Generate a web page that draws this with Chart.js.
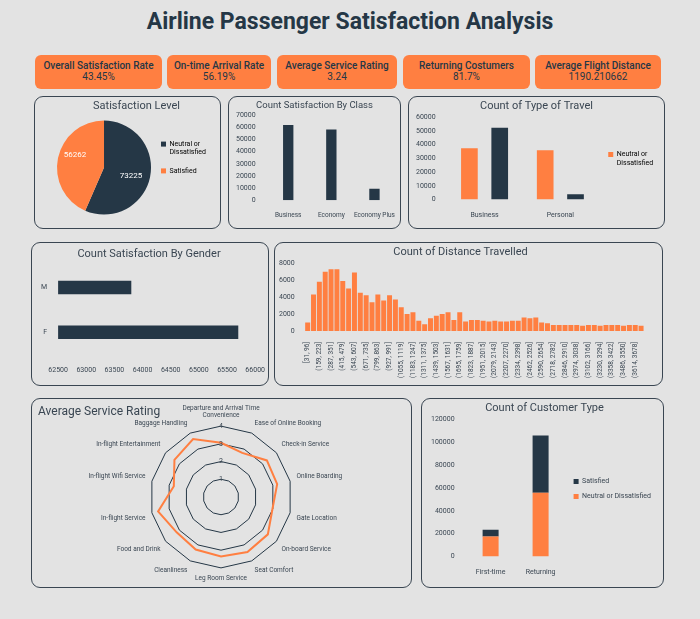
<!DOCTYPE html>
<html>
<head>
<meta charset="utf-8">
<script src="https://cdn.jsdelivr.net/npm/chart.js@4"></script>
<style>
body { margin:0; background:#e3e3e3; font-family:"Roboto", sans-serif; width:700px; height:619px; position:relative; overflow:hidden; }
h1 { position:absolute; left:0; width:700px; top:8px; margin:0; text-align:center; font-size:23px; font-weight:bold; color:#253746; }
.kpi { position:absolute; top:55px; height:34px; background:#ff7f41; border-radius:6px; text-align:center; color:#253746; font-size:10px; }
.kpi b { display:block; margin-top:5px; font-size:10px; font-weight:500; }
.panel { position:absolute; border:1.5px solid #3a4652; border-radius:9px; box-sizing:border-box; }
.panel canvas { position:absolute; left:0; top:0; }
.ptitle { position:absolute; left:6px; top:5px; font-size:12px; color:#3a4652; z-index:2; }
</style>
</head>
<body>
<h1>Airline Passenger Satisfaction Analysis</h1>
<div class="kpi" style="left:35px;width:127px"><b>Overall Satisfaction Rate</b>43.45%</div>
<div class="kpi" style="left:167px;width:104px"><b>On-time Arrival Rate</b>56.19%</div>
<div class="kpi" style="left:277px;width:120px"><b>Average Service Rating</b>3.24</div>
<div class="kpi" style="left:403px;width:127px"><b>Returning Costumers</b>81.7%</div>
<div class="kpi" style="left:535px;width:126px"><b>Average Flight Distance</b>1190.210662</div>

<div class="panel" style="left:34px;top:96px;width:187px;height:133px"><canvas id="pie"></canvas></div>
<div class="panel" style="left:228px;top:96px;width:173px;height:133px"><canvas id="cls"></canvas></div>
<div class="panel" style="left:408px;top:96px;width:257px;height:133px"><canvas id="travel"></canvas></div>
<div class="panel" style="left:31px;top:242px;width:238px;height:144px"><canvas id="gender"></canvas></div>
<div class="panel" style="left:274px;top:242px;width:389px;height:144px"><canvas id="dist"></canvas></div>
<div class="panel" style="left:31px;top:398px;width:381px;height:190px"><div class="ptitle">Average Service Rating</div><canvas id="radar"></canvas></div>
<div class="panel" style="left:421px;top:398px;width:243px;height:190px"><canvas id="cust"></canvas></div>

<script>
const ORANGE = '#ff7f41', DARK = '#253746', TXT = '#3a4652';
Chart.defaults.font.family = 'Roboto';
Chart.defaults.font.size = 7;
Chart.defaults.color = TXT;
Chart.defaults.animation = false;
Chart.defaults.responsive = true;
Chart.defaults.maintainAspectRatio = false;
Chart.defaults.plugins.legend.display = false;

function ttl(text, size) {
    return { display: true, text: text, color: TXT, font: { size: size || 11, weight: 'normal' }, padding: { top: 3, bottom: 4 } };
}
const noGrid = { display: false };
const plain = v => v; // keine Tausendertrennzeichen
const box = { boxWidth: 5, boxHeight: 5, font: { size: 7 } };

// Satisfaction Level
new Chart('pie', {
    type: 'pie',
    data: { labels: ['Neutral or Dissatisfied', 'Satisfied'],
            datasets: [{ data: [73225, 56262], backgroundColor: [DARK, ORANGE], borderWidth: 0 }] },
    options: {
        layout: { padding: { left: 22, bottom: 10, right: 4 } },
        plugins: {
            title: ttl('Satisfaction Level', 11),
            legend: { display: true, position: 'right', labels: Object.assign({
                generateLabels: c => [
                    { text: ['Neutral or', 'Dissatisfied'], fillStyle: DARK, strokeStyle: 'transparent', index: 0 },
                    { text: 'Satisfied', fillStyle: ORANGE, strokeStyle: 'transparent', index: 1 }]
            }, box) }
        }
    },
    plugins: [{
        id: 'vals',
        afterDatasetsDraw(c) {
            const ctx = c.ctx;
            c.getDatasetMeta(0).data.forEach((a, i) => {
                const p = a.tooltipPosition();
                ctx.fillStyle = '#fff'; ctx.font = '8px Roboto'; ctx.textAlign = 'center'; ctx.textBaseline = 'middle';
                ctx.fillText(c.data.datasets[0].data[i], p.x + (i ? -6 : 4), p.y + (i ? -8 : 4));
            });
        }
    }]
});

// Count Satisfaction By Class
new Chart('cls', {
    type: 'bar',
    data: { labels: ['Business', 'Economy', 'Economy Plus'],
            datasets: [{ data: [62160, 58309, 9411], backgroundColor: DARK, barPercentage: 0.3 }] },
    options: {
        layout: { padding: { right: 4, bottom: 6, left: 4 } },
        plugins: { title: ttl('Count Satisfaction By Class', 9.5) },
        scales: {
            x: { grid: noGrid, border: { display: false }, ticks: { autoSkip: false, maxRotation: 0, font: { size: 6.5 } } },
            y: { min: 0, max: 70000, ticks: { stepSize: 10000, callback: plain }, grid: noGrid, border: { display: false } }
        }
    }
});

// Count of Type of Travel
new Chart('travel', {
    type: 'bar',
    data: { labels: ['Business', 'Personal'],
            datasets: [
                { label: 'Neutral or Dissatisfied', data: [37337, 35965], backgroundColor: ORANGE, barPercentage: 0.55 },
                { label: 'Satisfied', data: [52356, 3829], backgroundColor: DARK, barPercentage: 0.55 }
            ] },
    options: {
        layout: { padding: { left: 4, bottom: 6, top: 0, right: 4 } },
        plugins: {
            title: ttl('Count of Type of Travel', 11),
            legend: { display: true, position: 'right', labels: Object.assign({
                generateLabels: c => [{ text: ['Neutral or', 'Dissatisfied'], fillStyle: ORANGE, strokeStyle: 'transparent', datasetIndex: 0 }] }, box) }
        },
        scales: {
            x: { grid: noGrid, border: { display: false } },
            y: { min: 0, max: 60000, ticks: { stepSize: 10000, callback: plain }, grid: noGrid, border: { display: false } }
        }
    }
});

// Count Satisfaction By Gender
new Chart('gender', {
    type: 'bar',
    data: { labels: ['M', 'F'],
            datasets: [{ data: [63800, 65700], backgroundColor: DARK, barPercentage: 0.3, categoryPercentage: 1 }] },
    options: {
        indexAxis: 'y',
        layout: { padding: { left: 6, right: 8, bottom: 8, top: 2 } },
        plugins: { title: ttl('Count Satisfaction By Gender', 11) },
        scales: {
            x: { min: 62500, max: 66000, ticks: { stepSize: 500, callback: plain }, grid: noGrid, border: { display: false } },
            y: { grid: noGrid, border: { display: false } }
        }
    }
});

// Count of Distance Travelled
const distCounts = [1000, 4300, 5800, 7000, 7300, 7300, 5900, 5000, 6900, 4500, 4200, 3400, 4300, 3600, 4200, 3700,
    2800, 2000, 2200, 1200, 800, 1500, 1800, 2000, 2200, 1300, 2200, 1100, 1300, 1300, 1200, 1100, 1200, 1100, 1100,
    1200, 1200, 1600, 1500, 1600, 1000, 900, 700, 700, 700, 700, 700, 600, 700, 700, 600, 700, 700, 700, 600, 700, 700, 600];
const distLabels = distCounts.map((v, i) => {
    const lo = Math.round(95.5 + (i - 1) * 63.97);
    const hi = Math.round(95.5 + i * 63.97);
    return i === 0 ? '[31, 96]' : '(' + lo + ', ' + hi + ']';
});
new Chart('dist', {
    type: 'bar',
    data: { labels: distLabels, datasets: [{ data: distCounts, backgroundColor: ORANGE, barPercentage: 0.85, categoryPercentage: 1 }] },
    options: {
        layout: { padding: { left: 2, right: 18, bottom: 4, top: 0 } },
        plugins: { title: ttl('Count of Distance Travelled', 11) },
        scales: {
            x: { grid: noGrid, border: { display: false }, ticks: { autoSkip: false, maxRotation: 90, minRotation: 90, font: { size: 6.5 },
                 callback: function (v, i) { return i % 2 === 0 ? this.getLabelForValue(v) : ''; } } },
            y: { min: 0, max: 8000, ticks: { stepSize: 1000, callback: plain, padding: 2 }, grid: noGrid, border: { display: false } }
        }
    }
});

// Average Service Rating
new Chart('radar', {
    type: 'radar',
    data: {
        labels: [['Departure and Arrival Time', 'Convenience'], 'Ease of Online Booking', 'Check-in Service', 'Online Boarding',
                 'Gate Location', 'On-board Service', 'Seat Comfort', 'Leg Room Service', 'Cleanliness', 'Food and Drink',
                 'In-flight Service', 'In-flight Wifi Service', 'In-flight Entertainment', 'Baggage Handling'],
        datasets: [{ data: [3.06, 2.76, 3.31, 3.25, 2.98, 3.38, 3.44, 3.35, 3.29, 3.20, 3.64, 2.73, 3.36, 3.63],
                     borderColor: ORANGE, borderWidth: 2, pointRadius: 0, fill: false }]
    },
    options: {
        layout: { padding: { top: 2, bottom: 0, left: 0, right: 0 } },
        scales: {
            r: { min: 0, max: 4, ticks: { stepSize: 1, backdropColor: 'transparent', font: { size: 7 }, z: 1 },
                 grid: { color: '#253746', lineWidth: 1 }, angleLines: { display: false },
                 pointLabels: { font: { size: 6.5 }, color: TXT, padding: 1 } }
        }
    }
});

// Count of Customer Type
new Chart('cust', {
    type: 'bar',
    data: { labels: ['First-time', 'Returning'],
            datasets: [
                { label: 'Neutral or Dissatisfied', data: [17500, 55700], backgroundColor: ORANGE, barPercentage: 0.4 },
                { label: 'Satisfied', data: [6000, 50000], backgroundColor: DARK, barPercentage: 0.4 }
            ] },
    options: {
        layout: { padding: { left: 6, bottom: 8, right: 2 } },
        plugins: {
            title: ttl('Count of Customer Type', 11),
            legend: { display: true, position: 'right', reverse: true, maxWidth: 100, labels: Object.assign({ padding: 8 }, box) }
        },
        scales: {
            x: { stacked: true, grid: noGrid, border: { display: false } },
            y: { stacked: true, min: 0, max: 120000, ticks: { stepSize: 20000, callback: plain }, grid: noGrid, border: { display: false } }
        }
    }
});
</script>
</body>
</html>
